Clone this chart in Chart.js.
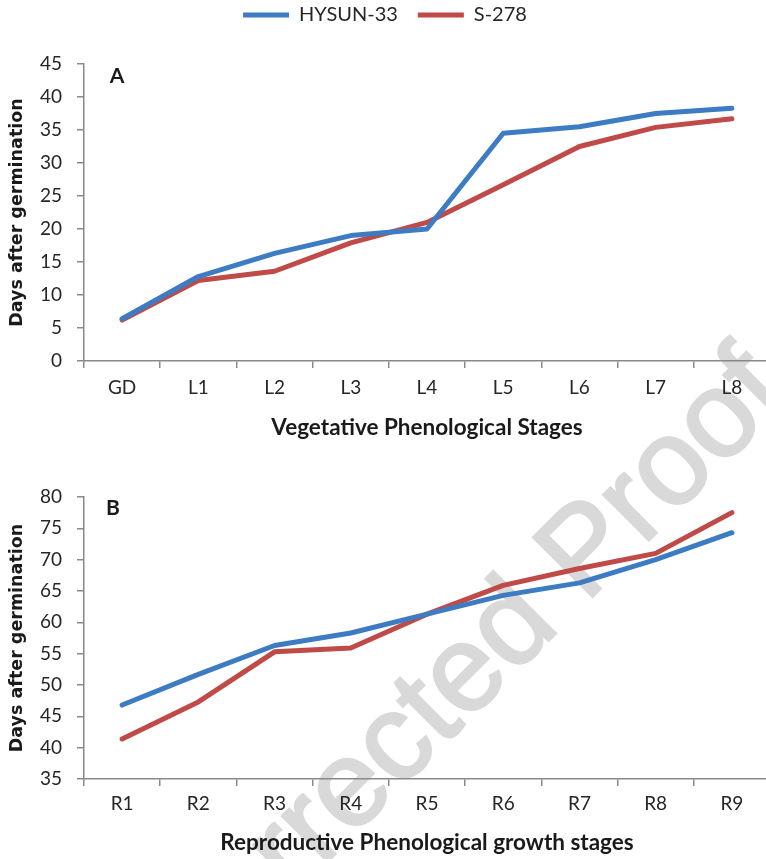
<!DOCTYPE html>
<html>
<head>
<meta charset="utf-8">
<script src="https://cdn.jsdelivr.net/npm/chart.js@4/dist/chart.umd.min.js"></script>
<style>
  html, body { margin: 0; padding: 0; background: #ffffff; overflow: hidden; width: 766px; height: 859px; }
  #wm { position: absolute; left: 412px; top: 718px; font-family: "Liberation Sans", Arial, sans-serif;
        font-size: 122px; color: #d9d9d9; -webkit-text-stroke: 2.5px #d9d9d9; white-space: nowrap; line-height: 1;
        transform: translate(-50%, -50%) rotate(-45deg); z-index: 0; }
  .wrap { position: absolute; left: 0; z-index: 1; }
  #wa { top: -15px; width: 770px; height: 455px; }
  #wb { top: 440px; width: 770px; height: 419px; }
</style>
</head>
<body>
<div id="wm">Uncorrected Proof</div>
<div class="wrap" id="wa"><canvas id="ca" width="770" height="455"></canvas></div>
<div class="wrap" id="wb"><canvas id="cb" width="770" height="419"></canvas></div>
<script>
// ---- data ----
const seriesNames = ['HYSUN-33', 'S-278'];
const seriesColors = ['#3D7CC2', '#BF4A47'];

const vegStages = ['GD', 'L1', 'L2', 'L3', 'L4', 'L5', 'L6', 'L7', 'L8'];
const vegHysun  = [6.4, 12.8, 16.3, 19.0, 20.0, 34.5, 35.5, 37.5, 38.3];
const vegS278   = [6.2, 12.2, 13.6, 17.9, 21.0, 26.7, 32.5, 35.4, 36.7];

const repStages = ['R1', 'R2', 'R3', 'R4', 'R5', 'R6', 'R7', 'R8', 'R9'];
const repHysun  = [46.8, 51.7, 56.3, 58.3, 61.3, 64.3, 66.3, 70.0, 74.3];
const repS278   = [41.4, 47.3, 55.3, 55.9, 61.3, 65.9, 68.6, 71.0, 77.5];

const vegYRange = [0, 45];
const repYRange = [35, 80];
const yStep = 5;

const yTitle = 'Days after germination';
const vegXTitle = 'Vegetative Phenological Stages';
const repXTitle = 'Reproductive Phenological growth stages';

// ---- styling ----
const axisColor = '#898989';
const textColor = '#262626';
const tickFont = { family: 'Lato', size: 19 };

const panelLabel = {
  id: 'panelLabel',
  afterDraw(chart, args, opts) {
    const ctx = chart.ctx;
    ctx.save();
    ctx.font = 'bold 21px Lato';
    ctx.fillStyle = '#1a1a1a';
    ctx.textAlign = 'center';
    ctx.textBaseline = 'middle';
    ctx.fillText(opts.text, chart.chartArea.left + opts.dx, chart.chartArea.top + opts.dy);
    ctx.restore();
  }
};

function makeDatasets(a, b) {
  return [a, b].map((d, i) => ({
    label: seriesNames[i],
    data: d,
    borderColor: seriesColors[i],
    backgroundColor: seriesColors[i],
    borderWidth: 5,
    pointRadius: 0,
    pointHoverRadius: 0,
    tension: 0,
    borderCapStyle: 'round',
    borderJoinStyle: 'round',
    fill: false
  }));
}

function makeOptions(cfg) {
  return {
    responsive: false,
    animation: false,
    devicePixelRatio: 1,
    layout: { padding: 0 },
    plugins: {
      legend: cfg.legend ? {
        display: true,
        position: 'top',
        align: 'center',
        weight: 1000,
        labels: {
          usePointStyle: true,
          pointStyle: 'line',
          pointStyleWidth: 46,
          padding: 20,
          color: textColor,
          font: { family: 'Lato', size: 20 }
        }
      } : { display: false },
      // empty spacer between the legend and the plot
      title: cfg.legend ? {
        display: true, text: '', position: 'top', weight: 500,
        padding: 0, font: { size: 29, lineHeight: 1 }
      } : { display: false },
      tooltip: { enabled: false },
      panelLabel: cfg.panel
    },
    scales: {
      x: {
        type: 'category',
        offset: true,
        border: { color: axisColor, width: 1.5 },
        grid: { display: true, offset: true, drawOnChartArea: false, drawTicks: true, tickLength: 7, color: axisColor, lineWidth: 1.5 },
        ticks: { color: textColor, font: tickFont, padding: cfg.xTickPad, maxRotation: 0, autoSkip: false },
        title: { display: true, text: cfg.xTitle, color: '#1a1a1a', font: { family: 'Lato', weight: 'bold', size: 22.5, lineHeight: 1.1 }, padding: { top: 0, bottom: cfg.xTitlePad } },
        afterFit(s) { s.height = cfg.xHeight; }
      },
      y: {
        min: cfg.yRange[0],
        max: cfg.yRange[1],
        border: { color: axisColor, width: 1.5 },
        grid: { display: true, drawOnChartArea: false, drawTicks: true, tickLength: 7, color: axisColor, lineWidth: 1.5 },
        ticks: { stepSize: yStep, color: textColor, font: tickFont, padding: 15 },
        title: { display: true, text: yTitle, color: '#1a1a1a', font: { family: 'DejaVu Sans', weight: 'bold', size: 17.5 }, padding: { top: 6.5, bottom: 0 } },
        afterFit(s) { s.width = 84; s.paddingTop = cfg.topPad; }
      }
    }
  };
}

new Chart(document.getElementById('ca'), {
  type: 'line',
  data: { labels: vegStages, datasets: makeDatasets(vegHysun, vegS278) },
  options: makeOptions({ legend: true, panel: { text: 'A', dx: 33, dy: 12 }, xTitle: vegXTitle, xTickPad: 8, xTitlePad: 0, xHeight: 79, yRange: vegYRange, topPad: 79 }),
  plugins: [panelLabel]
});

new Chart(document.getElementById('cb'), {
  type: 'line',
  data: { labels: repStages, datasets: makeDatasets(repHysun, repS278) },
  options: makeOptions({ legend: false, panel: { text: 'B', dx: 29, dy: 11 }, xTitle: repXTitle, xTickPad: 6, xTitlePad: 3.5, xHeight: 80, yRange: repYRange, topPad: 57 }),
  plugins: [panelLabel]
});
</script>
</body>
</html>
